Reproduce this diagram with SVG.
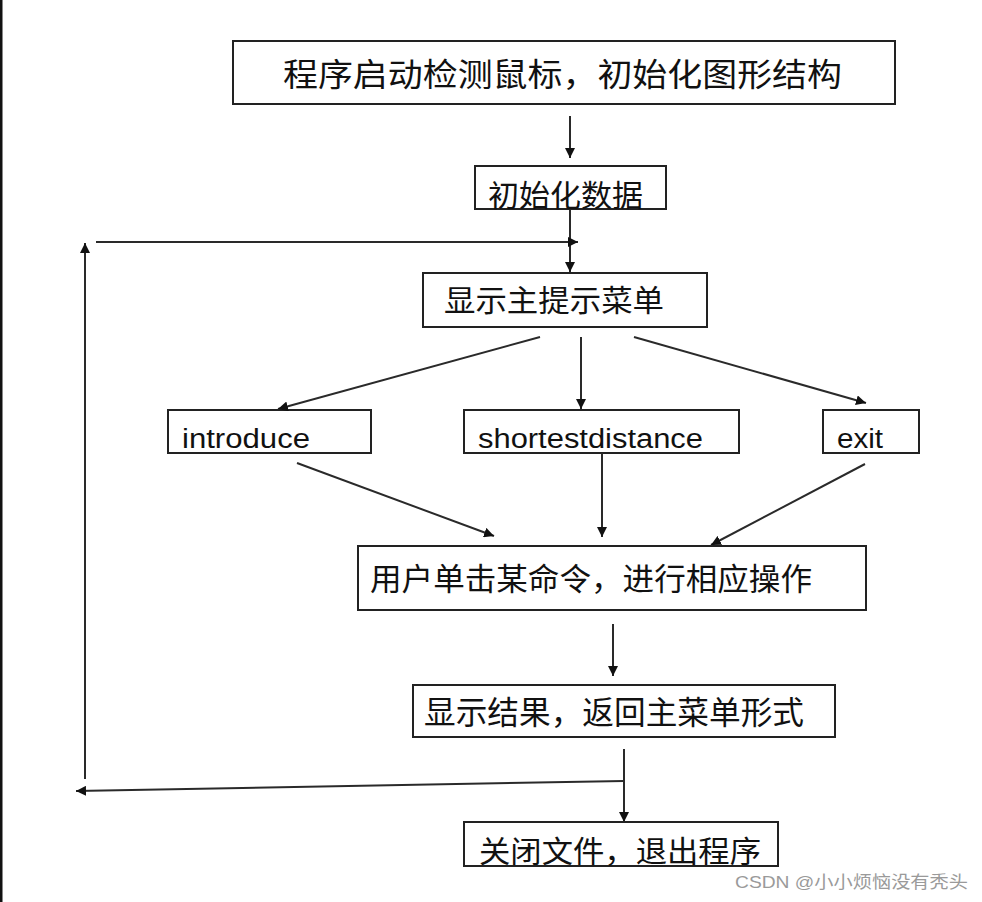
<svg xmlns="http://www.w3.org/2000/svg" width="982" height="902" viewBox="0 0 982 902">
<defs>
<marker id="ah" markerUnits="userSpaceOnUse" markerWidth="12" markerHeight="10" refX="10" refY="5" orient="auto">
<path d="M0,0 L10,5 L0,10 Z" fill="#111"/>
</marker>
<style>
.box{fill:#fff;stroke:#222;stroke-width:2}
.cn{font-family:"Noto Sans CJK SC","Liberation Sans",sans-serif;fill:#111}
.en{font-family:"Liberation Sans",Arial,sans-serif;fill:#111;font-size:27px}
.c line,.c path{stroke:#2a2a2a;stroke-width:2;fill:none}
.wm{font-family:"Liberation Sans","Noto Sans CJK SC",sans-serif;fill:#9a9a9a;font-size:17px}
</style>
</defs>
<rect x="0" y="0" width="982" height="902" fill="#fff"/>
<rect x="0" y="0" width="2.5" height="902" fill="#111"/>

<g id="n1"><rect class="box" x="233" y="41" width="662" height="63"/>
<text class="cn" x="283" y="86" font-size="32" textLength="559" lengthAdjust="spacingAndGlyphs">程序启动检测鼠标，初始化图形结构</text></g>

<g id="n2"><rect class="box" x="475" y="166" width="191" height="43"/>
<text class="cn" x="488" y="206" font-size="30" textLength="155" lengthAdjust="spacingAndGlyphs">初始化数据</text></g>

<g id="n3"><rect class="box" x="423" y="273" width="284" height="54"/>
<text class="cn" x="444" y="311" font-size="30" textLength="220" lengthAdjust="spacingAndGlyphs">显示主提示菜单</text></g>

<g id="n4"><rect class="box" x="168" y="410" width="203" height="43"/>
<text class="en" x="182" y="448" textLength="128" lengthAdjust="spacingAndGlyphs">introduce</text></g>

<g id="n5"><rect class="box" x="464" y="410" width="275" height="43"/>
<text class="en" x="478" y="448" textLength="225" lengthAdjust="spacingAndGlyphs">shortestdistance</text></g>

<g id="n6"><rect class="box" x="823" y="410" width="96" height="43"/>
<text class="en" x="837" y="448" textLength="46" lengthAdjust="spacingAndGlyphs">exit</text></g>

<g id="n7"><rect class="box" x="358" y="546" width="508" height="64"/>
<text class="cn" x="370" y="590" font-size="31" textLength="442" lengthAdjust="spacingAndGlyphs">用户单击某命令，进行相应操作</text></g>

<g id="n8"><rect class="box" x="413" y="685" width="422" height="52"/>
<text class="cn" x="424" y="724" font-size="32" textLength="380" lengthAdjust="spacingAndGlyphs">显示结果，返回主菜单形式</text></g>

<g id="n9"><rect class="box" x="464" y="822" width="314" height="44"/>
<text class="cn" x="479" y="862" font-size="30" textLength="282" lengthAdjust="spacingAndGlyphs">关闭文件，退出程序</text></g>

<g class="c" id="connectors">
<line x1="570" y1="116" x2="570" y2="158" marker-end="url(#ah)"/>
<line x1="570" y1="210" x2="570" y2="272" marker-end="url(#ah)"/>
<line x1="96" y1="242" x2="578" y2="242" marker-end="url(#ah)"/>
<line x1="85" y1="779" x2="85" y2="243" marker-end="url(#ah)"/>
<line x1="540" y1="337" x2="278" y2="409" marker-end="url(#ah)"/>
<line x1="581" y1="337" x2="581" y2="409" marker-end="url(#ah)"/>
<line x1="634" y1="337" x2="866" y2="403" marker-end="url(#ah)"/>
<line x1="297" y1="463" x2="494" y2="536" marker-end="url(#ah)"/>
<line x1="602" y1="453" x2="602" y2="537" marker-end="url(#ah)"/>
<line x1="865" y1="464" x2="711" y2="545" marker-end="url(#ah)"/>
<line x1="613" y1="624" x2="613" y2="676" marker-end="url(#ah)"/>
<line x1="624" y1="749" x2="624" y2="822" marker-end="url(#ah)"/>
<line x1="624" y1="781" x2="76" y2="791" marker-end="url(#ah)"/>
</g>

<text class="wm" x="735" y="888" textLength="233" lengthAdjust="spacingAndGlyphs">CSDN @小小烦恼没有秃头</text>
</svg>
